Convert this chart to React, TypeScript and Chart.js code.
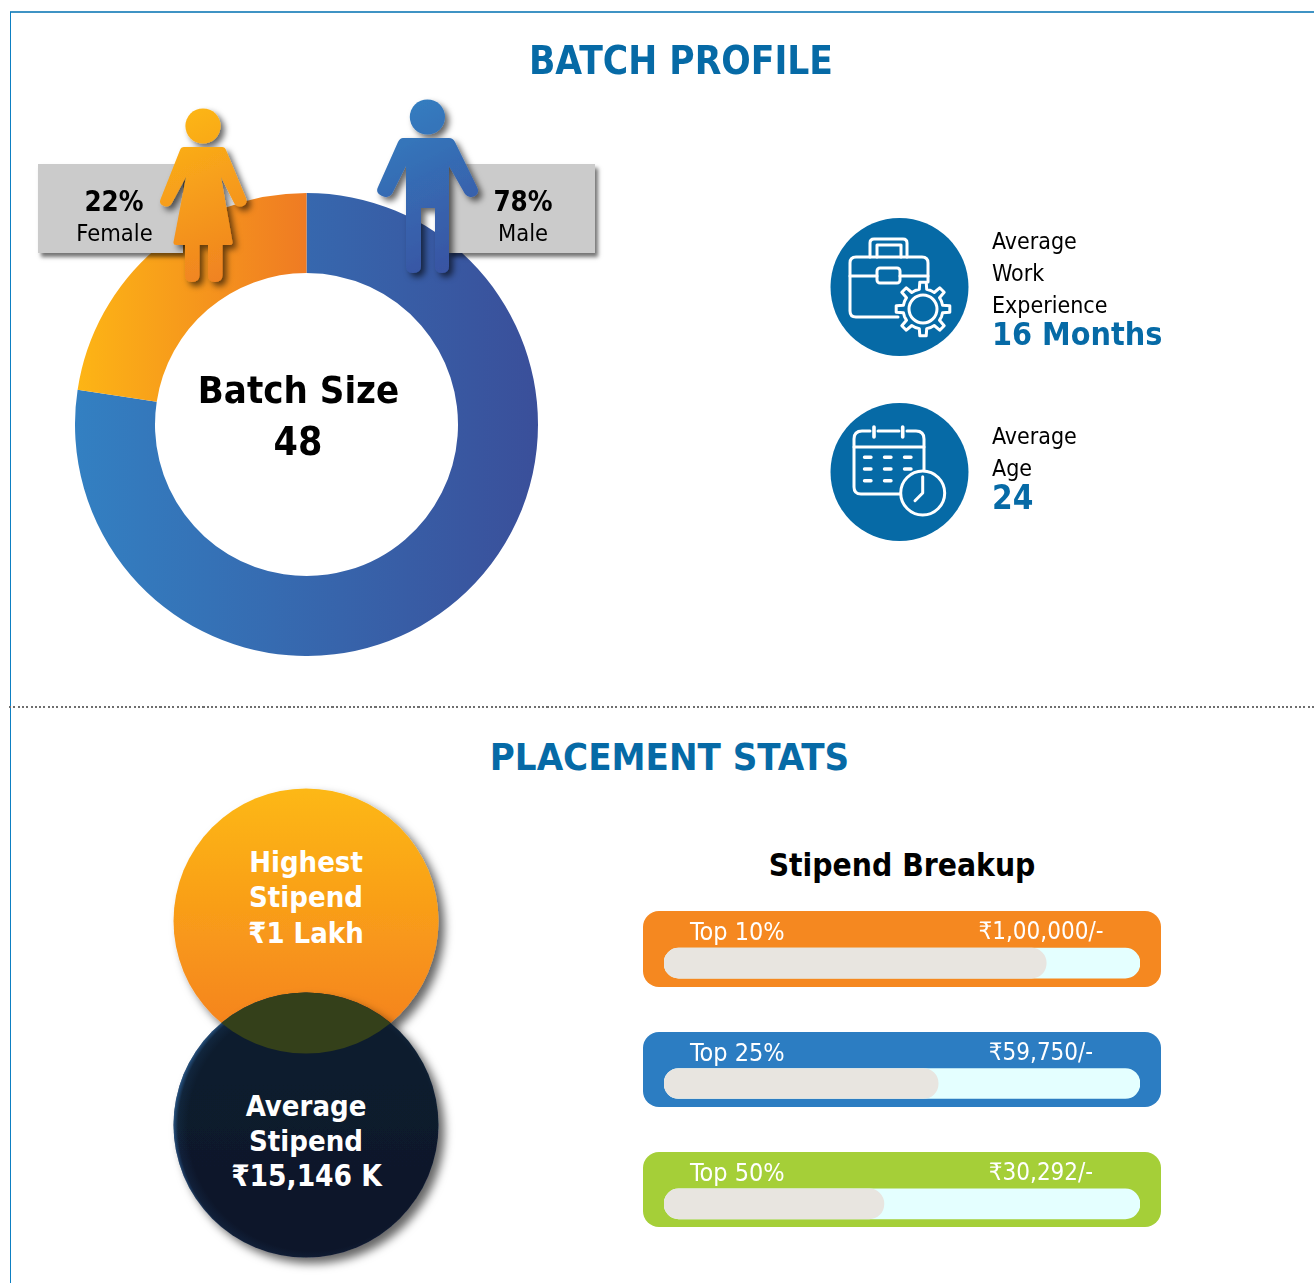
import React, { useEffect, useRef } from "react";
import { Chart, registerables } from "chart.js";

Chart.register(...registerables);

const batchLabels = ["Male", "Female"];
const batchSharesText = [78, 22];
const batchArcs = [77.4, 22.6];
const stipendLabels = ["Top 10%", "Top 25%", "Top 50%"];
const stipendAmounts = ["₹1,00,000/-", "₹59,750/-", "₹30,292/-"];
const stipendFill = [80.3, 57.6, 46.2];
const stipendTrack = [100, 100, 100];
const panelColours = ["#F58820", "#2C7DC2", "#A5CF38"];

const FONT = '"DejaVu Sans Condensed","DejaVu Sans",sans-serif';

function T(props: { x: number; y: number; size: number; bold?: boolean; color?: string; left?: boolean; spacing?: number; children: any }) {
  const { x, y, size, bold, color, left, spacing, children } = props;
  return (
    <div
      style={{
        position: "absolute",
        left: x,
        top: y,
        transform: left ? "translateY(-50%)" : "translate(-50%,-50%)",
        fontFamily: FONT,
        fontStretch: "condensed",
        fontSize: size,
        fontWeight: bold ? 700 : 400,
        color: color || "#000",
        letterSpacing: spacing || 0,
        whiteSpace: "nowrap",
        lineHeight: 1,
        zIndex: 5,
      }}
    >
      {children}
    </div>
  );
}

function gearPath(cx: number, cy: number, ro: number, ri: number, teeth: number) {
  let d = "";
  const step = (Math.PI * 2) / teeth;
  for (let i = 0; i < teeth; i++) {
    const a = i * step - Math.PI / 2;
    const pts = [
      [ri, a - step * 0.5],
      [ri, a - step * 0.24],
      [ro, a - step * 0.15],
      [ro, a + step * 0.15],
      [ri, a + step * 0.24],
    ];
    pts.forEach(([r, t], j) => {
      const px = cx + r * Math.cos(t);
      const py = cy + r * Math.sin(t);
      d += (i === 0 && j === 0 ? "M" : "L") + px.toFixed(1) + " " + py.toFixed(1) + " ";
    });
  }
  return d + "Z";
}

export default function App() {
  const donutRef = useRef<HTMLCanvasElement>(null);
  const barRef = useRef<HTMLCanvasElement>(null);

  useEffect(() => {
    const dctx = donutRef.current!.getContext("2d")!;
    const maleG = dctx.createLinearGradient(0, 0, 463, 0);
    maleG.addColorStop(0, "#3380C2");
    maleG.addColorStop(1, "#3A4F9A");
    const femaleG = dctx.createLinearGradient(2, 0, 231, 0);
    femaleG.addColorStop(0, "#FDB515");
    femaleG.addColorStop(1, "#EF7B23");
    const donut = new Chart(donutRef.current!, {
      type: "doughnut",
      data: {
        labels: batchLabels,
        datasets: [{ data: batchArcs, backgroundColor: [maleG, femaleG], borderWidth: 0 }],
      },
      options: {
        responsive: false,
        animation: false,
        cutout: 151.5,
        layout: { padding: 0 },
        plugins: { legend: { display: false }, tooltip: { enabled: false } },
      },
    });
    const bars = new Chart(barRef.current!, {
      type: "bar",
      data: {
        labels: stipendLabels,
        datasets: [
          { data: stipendFill, backgroundColor: "#E8E5E0", borderRadius: 15, borderSkipped: false, barThickness: 30, grouped: false, order: 1 },
          { data: stipendTrack, backgroundColor: "#E4FFFF", borderRadius: 15, borderSkipped: false, barThickness: 30, grouped: false, order: 2 },
        ],
      },
      options: {
        indexAxis: "y",
        responsive: false,
        animation: false,
        layout: { padding: 0 },
        scales: {
          x: { display: false, min: 0, max: 100 },
          y: { display: false },
        },
        plugins: { legend: { display: false }, tooltip: { enabled: false } },
      },
    });
    return () => {
      donut.destroy();
      bars.destroy();
    };
  }, []);

  const boxStyle = (left: number, width: number): React.CSSProperties => ({
    position: "absolute",
    left,
    top: 164,
    width,
    height: 89,
    background: "#CBCBCB",
    boxShadow: "3px 4px 4px rgba(0,0,0,.55)",
    zIndex: 2,
  });

  const panelTops = [911, 1032, 1152];
  const panelHeights = [76, 75, 75];
  const panelTextY = [931, 1052, 1172];

  return (
    <div style={{ position: "absolute", left: 0, top: 0, width: 1314, height: 1283, overflow: "hidden", background: "#fff" }}>
      <div style={{ position: "absolute", left: 10, top: 11, right: 0, height: 2, background: "#3F93C4" }} />
      <div style={{ position: "absolute", left: 10, top: 12, bottom: 0, width: 1, background: "#0D7FC2" }} />
      <div
        style={{
          position: "absolute",
          left: 9,
          top: 706,
          right: 0,
          height: 2,
          background: "repeating-linear-gradient(90deg,#6E6E6E 0,#6E6E6E 2px,transparent 2px,transparent 4.3px)",
        }}
      />

      <T x={681} y={61} size={38.5} bold color="#066AA6">BATCH PROFILE</T>
      <T x={669.5} y={757} size={38} bold color="#066AA6">PLACEMENT STATS</T>

      <canvas ref={donutRef} width={463} height={463} style={{ position: "absolute", left: 75, top: 193, zIndex: 1 }} />
      <div style={boxStyle(38, 145)} />
      <div style={boxStyle(448, 147)} />

      <svg width={1314} height={700} style={{ position: "absolute", left: 0, top: 0, zIndex: 3 }}>
        <defs>
          <linearGradient id="fg" gradientUnits="userSpaceOnUse" x1={165} y1={110} x2={240} y2={285}>
            <stop offset="0" stopColor="#FDB815" />
            <stop offset="1" stopColor="#EF7F22" />
          </linearGradient>
          <linearGradient id="mg" gradientUnits="userSpaceOnUse" x1={385} y1={100} x2={475} y2={275}>
            <stop offset="0" stopColor="#3380C2" />
            <stop offset="1" stopColor="#3A50A0" />
          </linearGradient>
          <filter id="sh" x="-30%" y="-20%" width="160%" height="140%">
            <feDropShadow dx="4" dy="4" stdDeviation="3" floodColor="#000" floodOpacity="0.6" />
          </filter>
        </defs>
        <g filter="url(#sh)" fill="url(#fg)">
          <ellipse cx={203} cy={126} rx={17.6} ry={17.6} />
          <path d="M184 147 H222 Q225 147 226 150 L246 198 Q248 204 243 206 Q237 208 234 203 L221 177 L232.5 242 Q233 245 230 245 H222.5 V275 Q222.5 282 215 282 Q208 282 208 275 V245 H199.5 V275 Q199.5 282 192 282 Q185 282 185 275 V245 H176 Q173 245 173.5 242 L186 177 L172 203 Q169 208 164 206 Q158 204 161 198 L180 150 Q181 147 184 147 Z" />
        </g>
        <g filter="url(#sh)" fill="url(#mg)">
          <ellipse cx={427.4} cy={117} rx={17.6} ry={17.6} />
          <path d="M403 138 H449 Q453 138 455 142 L477 187 Q480 193 475 196 Q469 199 465 194 L449 166 V266 Q449 273 442 273 Q435 273 435 266 V208 H421 V266 Q421 273 413 273 Q406 273 406 266 V166 L392 194 Q388 199 382 196 Q375 193 378 187 L398 142 Q400 138 403 138 Z" />
        </g>

        <circle cx={899.5} cy={287} r={69} fill="#066AA6" />
        <circle cx={899.5} cy={472} r={69} fill="#066AA6" />
        <g fill="none" stroke="#fff" strokeWidth={3} strokeLinejoin="round" strokeLinecap="round">
          <path d="M870 257 V243 Q870 239 874 239 H903 Q907 239 907 243 V257" />
          <path d="M877 257 V245 H901 V257" />
          <path d="M928 282 V263 Q928 257 922 257 H856 Q850 257 850 263 V311 Q850 317 856 317 H898" />
          <path d="M850 276 H877 M900 276 H928" />
          <rect x={877} y={268} width={23} height={15} rx={3} />
          <path d={gearPath(923, 309, 27, 20, 8)} fill="#066AA6" />
          <circle cx={923} cy={309} r={14} />

          <path d="M878 431 H899 M907 431 H916 Q924 431 924 439 V472 M900 494 H861 Q854 494 854 487 V439 Q854 431 862 431 H870" />
          <path d="M874 427 V437 M902.7 427 V437" strokeWidth={3.6} />
          <path d="M854 447 H924" />
          <circle cx={922.7} cy={493} r={22} fill="#066AA6" />
          <path d="M922.7 476.7 V493 L915 500.7" />
        </g>
        <g stroke="#fff" strokeWidth={3.4} strokeLinecap="round">
          <path d="M864.5 457.3 H871 M884.5 457.3 H891 M904.5 457.3 H911" />
          <path d="M864.5 469 H871 M884.5 469 H891 M904.5 469 H911" />
          <path d="M864.5 480.7 H871 M884.5 480.7 H891" />
        </g>
      </svg>

      <T x={114} y={202} size={27.5} bold>{batchSharesText[1]}%</T>
      <T x={114.5} y={234} size={23.5}>{batchLabels[1]}</T>
      <T x={523} y={202} size={27.5} bold>{batchSharesText[0]}%</T>
      <T x={523} y={234} size={23.5}>{batchLabels[0]}</T>
      <T x={298.5} y={390} size={38} bold>Batch Size</T>
      <T x={298} y={441} size={39} bold>48</T>

      <T x={992} y={241} size={23} left>Average</T>
      <T x={992} y={273} size={23} left>Work</T>
      <T x={992} y={305} size={23} left>Experience</T>
      <T x={992} y={334} size={32} bold left color="#066AA6">16 Months</T>
      <T x={992} y={436} size={23} left>Average</T>
      <T x={992} y={468} size={23} left>Age</T>
      <T x={992} y={497} size={33} bold left color="#066AA6">24</T>

      <svg width={600} height={560} style={{ position: "absolute", left: 0, top: 723, zIndex: 2, overflow: "visible" }}>
        <defs>
          <linearGradient id="og" x1="0" y1="0" x2="0" y2="1">
            <stop offset="0" stopColor="#FDB813" />
            <stop offset="1" stopColor="#F47E20" />
          </linearGradient>
          <linearGradient id="dbase" x1="0" y1="0" x2="0" y2="1">
            <stop offset="0" stopColor="#0F1F2E" />
            <stop offset="1" stopColor="#10152B" />
          </linearGradient>
          <radialGradient id="dglow" gradientUnits="userSpaceOnUse" cx={312} cy={404} r={141}>
            <stop offset="0.88" stopColor="#2F6AA8" stopOpacity="0" />
            <stop offset="0.95" stopColor="#2F6AA8" stopOpacity="0.12" />
            <stop offset="1" stopColor="#3A78B8" stopOpacity="0.9" />
          </radialGradient>
          <clipPath id="lens">
            <circle cx={306} cy={198} r={132.5} />
          </clipPath>
          <filter id="cs" x="-20%" y="-20%" width="145%" height="145%">
            <feDropShadow dx="6" dy="6" stdDeviation="5" floodColor="#000" floodOpacity="0.6" />
          </filter>
        </defs>
        <circle cx={306} cy={198} r={132.5} fill="url(#og)" filter="url(#cs)" />
        <circle cx={306} cy={402} r={132.5} fill="url(#dbase)" filter="url(#cs)" />
        <circle cx={306} cy={402} r={132.5} fill="url(#dglow)" />
        <circle cx={306} cy={402} r={132.5} fill="#34401A" clipPath="url(#lens)" />
      </svg>

      <T x={306} y={862} size={29} bold color="#fff">Highest</T>
      <T x={306} y={897} size={29} bold color="#fff">Stipend</T>
      <T x={306} y={933} size={29} bold color="#fff">₹1 Lakh</T>
      <T x={306} y={1106} size={29} bold color="#fff">Average</T>
      <T x={306} y={1141} size={29} bold color="#fff">Stipend</T>
      <T x={306.5} y={1177} size={29.5} bold color="#fff">₹15,146 K</T>

      <T x={902} y={866} size={31.5} bold>Stipend Breakup</T>

      {stipendLabels.map((l, i) => (
        <div key={l} style={{ position: "absolute", left: 643, top: panelTops[i], width: 518, height: panelHeights[i], borderRadius: 16, background: panelColours[i], zIndex: 1 }} />
      ))}
      <canvas ref={barRef} width={476} height={361} style={{ position: "absolute", left: 664, top: 903, zIndex: 2 }} />
      {stipendLabels.map((l, i) => (
        <T key={l} x={690} y={panelTextY[i] - 0.5} size={25} left color="#fff">{l}</T>
      ))}
      {stipendAmounts.map((a, i) => (
        <T key={a} x={1041} y={panelTextY[i]} size={24} color="#fff">{a}</T>
      ))}
    </div>
  );
}
